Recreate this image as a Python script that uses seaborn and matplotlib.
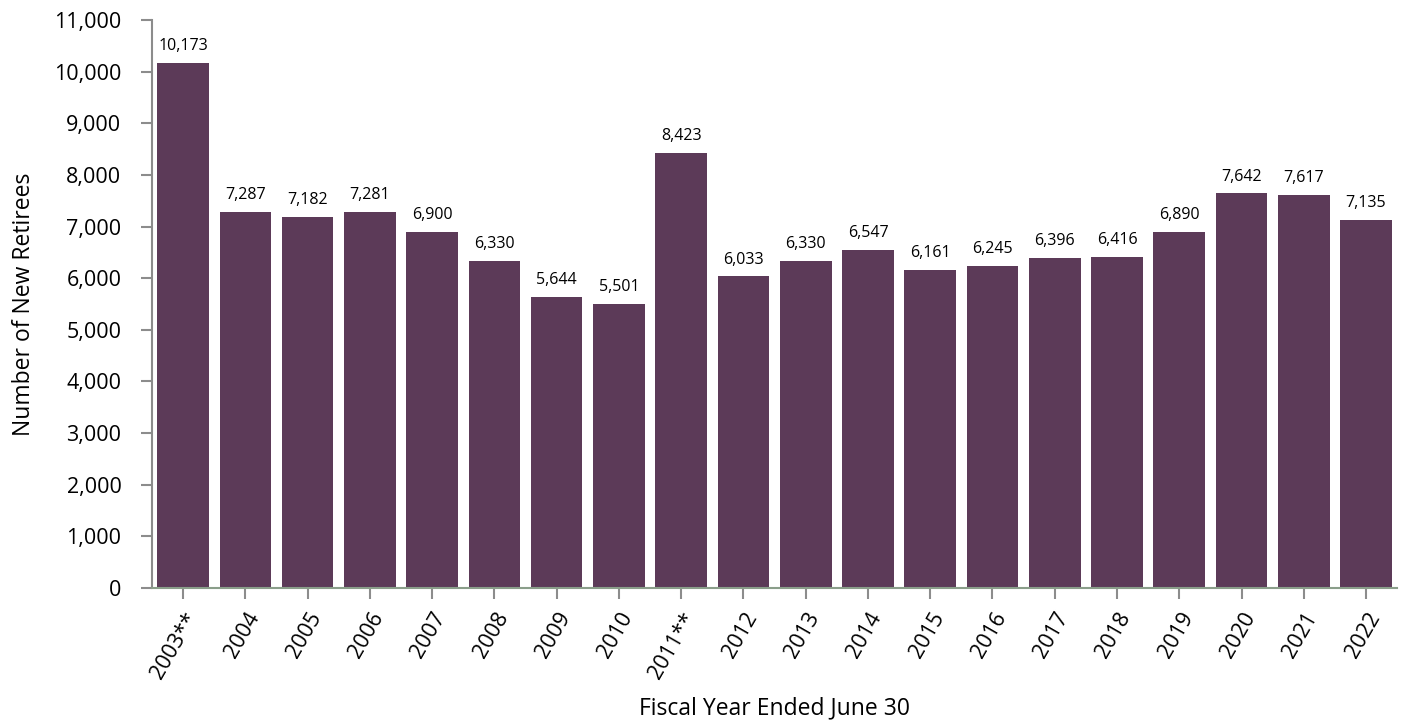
import seaborn as sns
import matplotlib.pyplot as plt
import pandas as pd

# Number of new retirees by fiscal year
years = ["2003**", "2004", "2005", "2006", "2007", "2008", "2009", "2010", "2011**", "2012",
         "2013", "2014", "2015", "2016", "2017", "2018", "2019", "2020", "2021", "2022"]
retirees = [10173, 7287, 7182, 7281, 6900, 6330, 5644, 5501, 8423, 6033,
            6330, 6547, 6161, 6245, 6396, 6416, 6890, 7642, 7617, 7135]

df = pd.DataFrame({"year": years, "retirees": retirees})

sns.set_style("white")
plt.rcParams["font.family"] = ["Open Sans", "DejaVu Sans"]
plt.rcParams["text.color"] = "black"

fig = plt.figure(figsize=(14.07, 7.21), dpi=100)
ax = fig.add_axes([0.108, 0.1845, 0.885, 0.7878])

sns.barplot(data=df, x="year", y="retirees", color="#5c3a58", saturation=1,
            width=0.83, linewidth=0, ax=ax)

for i, v in enumerate(retirees):
    ax.text(i, v + 170, f"{v:,}", ha="center", va="bottom", fontsize=11.5, color="black")

ax.set_ylim(0, 11000)
ax.set_xlim(-0.5, len(years) - 0.5)
ax.set_yticks(range(0, 11001, 1000))
ax.set_yticklabels([f"{t:,}" for t in range(0, 11001, 1000)], fontsize=15.5, color="black")
ax.set_xticks(range(len(years)))
ax.set_xticklabels(years, rotation=60, ha="right", rotation_mode="anchor",
                   fontsize=15.5, color="black")

ax.set_xlabel("Fiscal Year Ended June 30", fontsize=16.5, labelpad=10, color="black")
ax.set_ylabel("Number of New Retirees", fontsize=16.5, labelpad=13, color="black")

for s in ["top", "right"]:
    ax.spines[s].set_visible(False)
ax.spines["left"].set_color("#8c8c8c")
ax.spines["left"].set_linewidth(1.5)
ax.spines["bottom"].set_color("#8a9e8a")
ax.spines["bottom"].set_linewidth(1.5)
ax.tick_params(axis="both", direction="out", length=8, width=1.5, color="#8c8c8c",
               bottom=True, left=True)
ax.tick_params(axis="y", pad=14)
ax.tick_params(axis="x", pad=7)

fig.savefig("out.png", dpi=100)
